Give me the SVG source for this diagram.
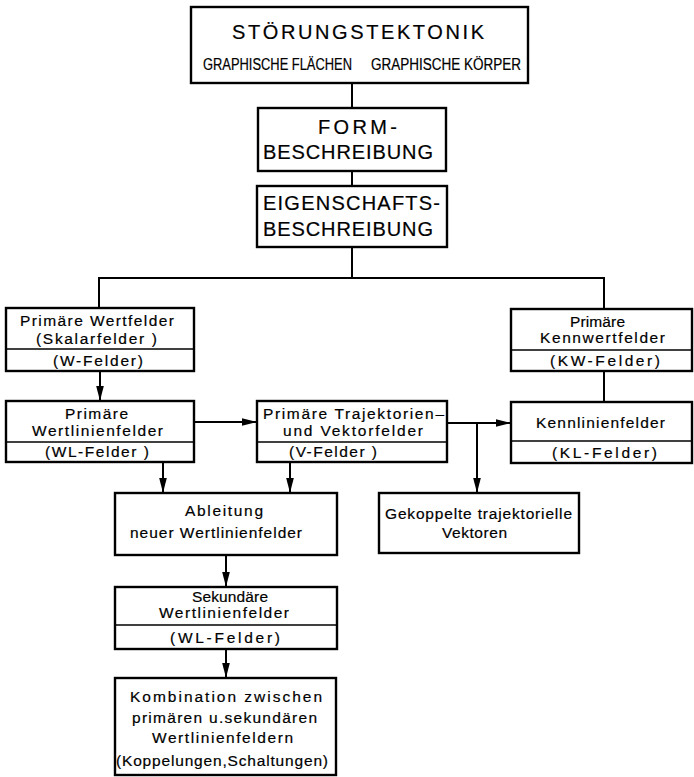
<svg xmlns="http://www.w3.org/2000/svg" width="694" height="777" viewBox="0 0 694 777">
<defs>
<marker id="ah" markerUnits="userSpaceOnUse" markerWidth="16" markerHeight="10" refX="15" refY="5" orient="auto">
<path d="M0,1.2 L15,5 L0,8.8 Z" fill="#000"/>
</marker>
<style>
.box{fill:#fff;stroke:#000;stroke-width:2.4}
.div{stroke:#000;stroke-width:1.6;fill:none}
.con{stroke:#000;stroke-width:2;fill:none}
.arr{stroke:#000;stroke-width:2;fill:none;marker-end:url(#ah)}
text{font-family:"Liberation Sans","DejaVu Sans",sans-serif;fill:#000;stroke:#000;stroke-width:0.2}
.t1{font-size:20px}
.t2{font-size:16px}
.t3{font-size:15.5px}
</style>
</defs>
<rect width="694" height="777" fill="#fff"/>
<g id="connectors">
<line class="con" x1="352" y1="83" x2="352" y2="108"/>
<line class="con" x1="352" y1="171" x2="352" y2="186"/>
<line class="con" x1="352" y1="247" x2="352" y2="278"/>
<polyline class="con" points="99,308 99,278 604,278 604,309"/>
<line class="con" x1="604" y1="371" x2="604" y2="402"/>
<line class="arr" x1="100" y1="371" x2="100" y2="401"/>
<line class="arr" x1="194" y1="422" x2="257" y2="422"/>
<line class="arr" x1="447" y1="423" x2="511" y2="423"/>
<line class="arr" x1="477" y1="423" x2="477" y2="493"/>
<line class="arr" x1="163" y1="462" x2="163" y2="493"/>
<line class="arr" x1="290" y1="462" x2="290" y2="493"/>
<line class="arr" x1="226" y1="555" x2="226" y2="587"/>
<line class="arr" x1="226" y1="649" x2="226" y2="678"/>
</g>
<g id="stoerungstektonik">
<rect class="box" x="191" y="7" width="337" height="76"/>
<text class="t1" x="232" y="39" textLength="252" lengthAdjust="spacing">STÖRUNGSTEKTONIK</text>
<text class="t2" x="203" y="70" textLength="149" lengthAdjust="spacingAndGlyphs">GRAPHISCHE FLÄCHEN</text>
<text class="t2" x="371" y="70" textLength="150" lengthAdjust="spacingAndGlyphs">GRAPHISCHE KÖRPER</text>
</g>
<g id="formbeschreibung">
<rect class="box" x="258" y="108" width="188" height="63"/>
<text class="t1" x="318" y="134" textLength="79" lengthAdjust="spacing">FORM-</text>
<text class="t1" x="263" y="159" textLength="170" lengthAdjust="spacing">BESCHREIBUNG</text>
</g>
<g id="eigenschaftsbeschreibung">
<rect class="box" x="257" y="186" width="190" height="61"/>
<text class="t1" x="263" y="210" textLength="177" lengthAdjust="spacing">EIGENSCHAFTS-</text>
<text class="t1" x="263" y="236" textLength="170" lengthAdjust="spacing">BESCHREIBUNG</text>
</g>
<g id="w-felder">
<rect class="box" x="6" y="308" width="188" height="63"/>
<line class="div" x1="6" y1="349" x2="194" y2="349"/>
<text class="t3" x="20" y="326" textLength="154" lengthAdjust="spacing">Primäre Wertfelder</text>
<text class="t3" x="36" y="344" textLength="121" lengthAdjust="spacing">(Skalarfelder )</text>
<text class="t3" x="53" y="366" textLength="90" lengthAdjust="spacing">(W-Felder)</text>
</g>
<g id="wl-felder">
<rect class="box" x="6" y="401" width="188" height="61"/>
<line class="div" x1="6" y1="442" x2="194" y2="442"/>
<text class="t3" x="65" y="419" textLength="63" lengthAdjust="spacing">Primäre</text>
<text class="t3" x="32" y="436" textLength="131" lengthAdjust="spacing">Wertlinienfelder</text>
<text class="t3" x="45" y="457" textLength="104" lengthAdjust="spacing">(WL-Felder )</text>
</g>
<g id="v-felder">
<rect class="box" x="257" y="401" width="190" height="61"/>
<line class="div" x1="257" y1="442" x2="447" y2="442"/>
<text class="t3" x="263" y="419" textLength="181" lengthAdjust="spacing">Primäre Trajektorien–</text>
<text class="t3" x="283" y="436" textLength="140" lengthAdjust="spacing">und Vektorfelder</text>
<text class="t3" x="289" y="457" textLength="88" lengthAdjust="spacing">(V-Felder )</text>
</g>
<g id="kw-felder">
<rect class="box" x="511" y="309" width="181" height="62"/>
<line class="div" x1="511" y1="350" x2="692" y2="350"/>
<text class="t3" x="570" y="327" textLength="55" lengthAdjust="spacing">Primäre</text>
<text class="t3" x="540" y="343" textLength="125" lengthAdjust="spacing">Kennwertfelder</text>
<text class="t3" x="550" y="366" textLength="110" lengthAdjust="spacing">(KW-Felder)</text>
</g>
<g id="kl-felder">
<rect class="box" x="511" y="402" width="181" height="61"/>
<line class="div" x1="511" y1="441" x2="692" y2="441"/>
<text class="t3" x="536" y="428" textLength="129" lengthAdjust="spacing">Kennlinienfelder</text>
<text class="t3" x="552" y="458" textLength="105" lengthAdjust="spacing">(KL-Felder)</text>
</g>
<g id="gekoppelte-vektoren">
<rect class="box" x="379" y="493" width="200" height="60"/>
<text class="t3" x="385" y="519" textLength="187" lengthAdjust="spacing">Gekoppelte trajektorielle</text>
<text class="t3" x="442" y="538" textLength="65" lengthAdjust="spacing">Vektoren</text>
</g>
<g id="ableitung">
<rect class="box" x="115" y="493" width="222" height="62"/>
<text class="t3" x="185" y="516" textLength="78" lengthAdjust="spacing">Ableitung</text>
<text class="t3" x="130" y="538" textLength="172" lengthAdjust="spacing">neuer Wertlinienfelder</text>
</g>
<g id="sekundaere-wl-felder">
<rect class="box" x="115" y="587" width="222" height="62"/>
<line class="div" x1="115" y1="625" x2="337" y2="625"/>
<text class="t3" x="192" y="602" textLength="76" lengthAdjust="spacing">Sekundäre</text>
<text class="t3" x="159" y="618" textLength="130" lengthAdjust="spacing">Wertlinienfelder</text>
<text class="t3" x="170" y="643" textLength="110" lengthAdjust="spacing">(WL-Felder)</text>
</g>
<g id="kombination">
<rect class="box" x="115" y="678" width="221" height="97"/>
<text class="t3" x="130" y="702" textLength="192" lengthAdjust="spacing">Kombination zwischen</text>
<text class="t3" x="132" y="723" textLength="185" lengthAdjust="spacing">primären u.sekundären</text>
<text class="t3" x="152" y="743" textLength="141" lengthAdjust="spacing">Wertlinienfeldern</text>
<text class="t3" x="116" y="766" textLength="212" lengthAdjust="spacing">(Koppelungen,Schaltungen)</text>
</g>
</svg>
